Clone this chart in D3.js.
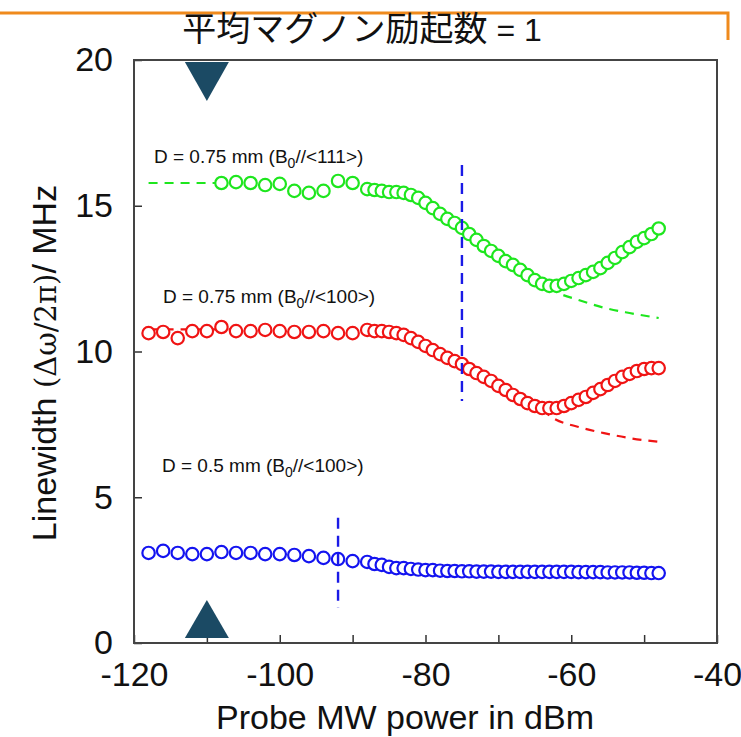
<!DOCTYPE html>
<html>
<head>
<meta charset="utf-8">
<script src="https://cdn.jsdelivr.net/npm/d3@7"></script>
<style>
  html, body { margin: 0; padding: 0; background: #fff; }
  text { font-family: "Liberation Sans", Arial, sans-serif; }
</style>
</head>
<body>
<svg id="chart"></svg>
<script>
const svg = d3.select("#chart");

// power axis values (dBm)
const powerSparse = [-118, -116, -114, -112, -110, -108, -106, -104, -102, -100, -98, -96, -94, -92, -90];
const powerGreenSparse = [-108, -106, -104, -102, -100, -98, -96, -94, -92, -90];
const powerDense = [-88, -87, -86, -85, -84, -83, -82, -81, -80, -79, -78, -77, -76, -75, -74, -73, -72, -71, -70, -69,
  -68, -67, -66, -65, -64, -63, -62, -61, -60, -59, -58, -57, -56, -55, -54, -53, -52, -51, -50, -49, -48];

// linewidths (MHz)
const green111Sparse = [15.78, 15.81, 15.78, 15.71, 15.75, 15.51, 15.44, 15.51, 15.85, 15.78];
const green111Dense = [15.57, 15.54, 15.51, 15.47, 15.47, 15.44, 15.37, 15.27, 15.10, 14.92,
  14.72, 14.55, 14.41, 14.24, 14.03, 13.83, 13.62, 13.45, 13.28, 13.10,
  12.97, 12.80, 12.62, 12.45, 12.32, 12.25, 12.25, 12.32, 12.42, 12.52,
  12.62, 12.73, 12.86, 13.04, 13.21, 13.41, 13.58, 13.76, 13.89, 14.03, 14.22];

const red100Sparse = [10.63, 10.67, 10.46, 10.70, 10.70, 10.84, 10.70, 10.70, 10.74, 10.70, 10.67, 10.67, 10.70, 10.63, 10.63];
const red100Dense = [10.74, 10.70, 10.70, 10.67, 10.63, 10.57, 10.46, 10.33, 10.19, 10.05,
  9.91, 9.78, 9.67, 9.57, 9.40, 9.26, 9.13, 8.99, 8.82, 8.68,
  8.51, 8.37, 8.23, 8.13, 8.06, 8.06, 8.06, 8.13, 8.23, 8.34,
  8.44, 8.58, 8.71, 8.85, 8.99, 9.13, 9.23, 9.33, 9.40, 9.43, 9.43];

const blue05Sparse = [3.09, 3.16, 3.09, 3.05, 3.05, 3.12, 3.09, 3.09, 3.05, 3.05, 3.02, 2.98, 2.92, 2.88, 2.81];
const blue05Dense = [2.78, 2.71, 2.68, 2.61, 2.57, 2.57, 2.54, 2.52, 2.50, 2.50,
  2.48, 2.47, 2.47, 2.46, 2.46, 2.45, 2.45, 2.45, 2.44, 2.44,
  2.44, 2.44, 2.44, 2.44, 2.44, 2.44, 2.44, 2.44, 2.44, 2.43,
  2.43, 2.43, 2.43, 2.42, 2.42, 2.42, 2.42, 2.41, 2.41, 2.40, 2.40];

// dashed fit curves (only the visible parts)
const greenFitLeft = [[-118, 15.78], [-108, 15.78]];
const greenFitTail = [[-63, 12.2], [-62, 12.04], [-59, 11.77], [-55.5, 11.50], [-52, 11.32], [-48, 11.15]];
const redFitLeft = [[-118, 10.76], [-106, 10.76]];
const redFitTail = [[-64, 8.0], [-62.5, 7.72], [-59, 7.41], [-55.5, 7.20], [-52, 7.03], [-48, 6.90]];

// vertical dashed markers [power, from, to]
const vMarkers = [[-75, 8.3, 16.4], [-92, 1.2, 4.3]];

const xTicks = [-120, -110, -100, -90, -80, -70, -60, -50, -40];
const xTickLabels = [-120, -100, -80, -60, -40];
const yTicks = [0, 5, 10, 15, 20];

const triangleAt = -110;

svg.attr("width", 741).attr("height", 737);

const x = d3.scaleLinear().domain([-120, -40]).range([134, 717]);
const y = d3.scaleLinear().domain([0, 20]).range([643, 60]);

const zip = (xs, ys) => xs.map((d, i) => ({ x: d, y: ys[i] }));

const series = [
  { color: "#1ee61e", pts: zip(powerGreenSparse, green111Sparse).concat(zip(powerDense, green111Dense)) },
  { color: "#f01414", pts: zip(powerSparse, red100Sparse).concat(zip(powerDense, red100Dense)) },
  { color: "#1414f0", pts: zip(powerSparse, blue05Sparse).concat(zip(powerDense, blue05Dense)) }
];

/* ---------- top orange rule + title ---------- */
svg.append("path")
  .attr("d", "M0,13 L728,13 L728,40")
  .attr("fill", "none")
  .attr("stroke", "#ef8a1c")
  .attr("stroke-width", 3);

const title = svg.append("text")
  .attr("x", 362)
  .attr("y", 41)
  .attr("text-anchor", "middle")
  .style("font-size", "34px")
  .attr("fill", "#111");
title.append("tspan").style("font-family", "'Noto Sans CJK JP', sans-serif").text("平均マグノン励起数");
title.append("tspan").style("font-size", "32px").text(" = 1");

/* ---------- axes ---------- */
const xAxis = svg.append("g")
  .attr("transform", "translate(0,643)")
  .call(d3.axisBottom(x).tickValues(xTicks).tickSize(-8).tickPadding(19)
    .tickFormat(d => xTickLabels.includes(d) ? d : ""));
xAxis.select(".domain").remove();
xAxis.selectAll(".tick line").attr("stroke", "#333").attr("stroke-width", 1.5);
xAxis.selectAll(".tick text").style("font-size", "34px").attr("fill", "#111");

const yAxis = svg.append("g")
  .attr("transform", "translate(134,0)")
  .call(d3.axisLeft(y).tickValues(yTicks).tickSize(-8).tickPadding(21));
yAxis.select(".domain").remove();
yAxis.selectAll(".tick line").attr("stroke", "#333").attr("stroke-width", 1.5);
yAxis.selectAll(".tick text").style("font-size", "34px").attr("fill", "#111");

svg.append("rect")
  .attr("x", x(-120))
  .attr("y", y(20))
  .attr("width", x(-40) - x(-120))
  .attr("height", y(0) - y(20))
  .attr("fill", "none")
  .attr("stroke", "#444")
  .attr("stroke-width", 2);

svg.append("text")
  .attr("x", 405)
  .attr("y", 729)
  .attr("text-anchor", "middle")
  .style("font-size", "34px")
  .attr("fill", "#111")
  .text("Probe MW power in dBm");

const yLab = svg.append("text")
  .attr("transform", "translate(56,363) rotate(-90)")
  .attr("text-anchor", "middle")
  .style("font-size", "34px")
  .attr("fill", "#111");
yLab.append("tspan").text("Linewidth ");
yLab.append("tspan").style("font-family", "'DejaVu Serif', serif").style("font-size", "29px").text("(Δω/2π)");
yLab.append("tspan").text("/ MHz");

/* ---------- fit curves ---------- */
const line = d3.line().x(d => x(d[0])).y(d => y(d[1])).curve(d3.curveMonotoneX);
const fits = [
  { color: "#1ee61e", pts: greenFitLeft },
  { color: "#1ee61e", pts: greenFitTail },
  { color: "#f01414", pts: redFitLeft },
  { color: "#f01414", pts: redFitTail }
];
svg.selectAll("path.fit")
  .data(fits)
  .enter()
  .append("path")
  .attr("class", "fit")
  .attr("d", d => line(d.pts))
  .attr("fill", "none")
  .attr("stroke", d => d.color)
  .attr("stroke-width", 2.2)
  .attr("stroke-dasharray", "9,7");

/* ---------- data circles ---------- */
series.forEach(s => {
  svg.append("g")
    .selectAll("circle")
    .data(s.pts)
    .enter()
    .append("circle")
    .attr("cx", d => x(d.x))
    .attr("cy", d => y(d.y))
    .attr("r", 6.2)
    .attr("fill", "#fff")
    .attr("stroke", s.color)
    .attr("stroke-width", 2.2);
});

/* ---------- vertical dashed markers ---------- */
svg.selectAll("line.vmark")
  .data(vMarkers)
  .enter()
  .append("line")
  .attr("class", "vmark")
  .attr("x1", d => x(d[0]))
  .attr("x2", d => x(d[0]))
  .attr("y1", d => y(d[2]))
  .attr("y2", d => y(d[1]))
  .attr("stroke", "#1a1ae6")
  .attr("stroke-width", 2.4)
  .attr("stroke-dasharray", "11,7");

/* ---------- triangles ---------- */
svg.append("path")
  .attr("d", `M${x(triangleAt) - 22},${y(20) + 2} L${x(triangleAt) + 22},${y(20) + 2} L${x(triangleAt)},${y(20) + 41} Z`)
  .attr("fill", "#1b4a64");
svg.append("path")
  .attr("d", `M${x(triangleAt) - 22},${y(0) - 5} L${x(triangleAt) + 22},${y(0) - 5} L${x(triangleAt)},${y(0) - 43} Z`)
  .attr("fill", "#1b4a64");

/* ---------- series labels ---------- */
const labels = [
  { x: 154, y: 163, main: "D = 0.75 mm (B", sub: "0", tail: "//<111>)" },
  { x: 163, y: 303, main: "D = 0.75 mm (B", sub: "0", tail: "//<100>)" },
  { x: 162, y: 472, main: "D = 0.5 mm (B", sub: "0", tail: "//<100>)" }
];
labels.forEach(l => {
  const t = svg.append("text")
    .attr("x", l.x)
    .attr("y", l.y)
    .style("font-size", "19px")
    .attr("fill", "#111");
  t.append("tspan").text(l.main);
  t.append("tspan").attr("dy", 5).style("font-size", "14px").text(l.sub);
  t.append("tspan").attr("dy", -5).text(l.tail);
});
</script>
</body>
</html>
